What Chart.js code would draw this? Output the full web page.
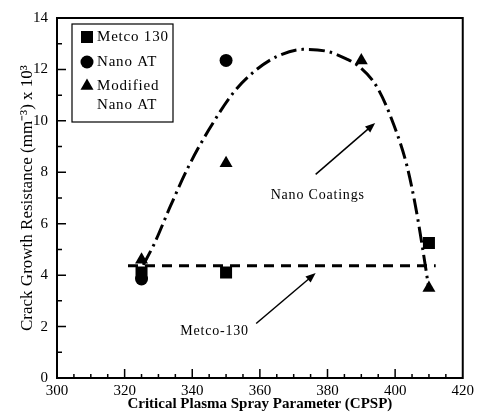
<!DOCTYPE html>
<html>
<head>
<meta charset="utf-8">
<script src="https://cdn.jsdelivr.net/npm/chart.js@4.4.1/dist/chart.umd.min.js"></script>
<style>
  html, body { margin: 0; padding: 0; background: #fff; }
  #wrap { width: 478px; height: 413px; position: relative; }
</style>
</head>
<body>
<div id="wrap"><canvas id="cgr-chart"></canvas></div>
<script>
// measured points
const metcoX = [325, 350, 410];
const metcoY = [4.1, 4.1, 5.25];
const nanoX = [325, 350];
const nanoY = [3.85, 12.35];
const modX = [325, 350, 390, 410];
const modY = [4.6, 8.35, 12.35, 3.5];

// fitted trend lines
const nanoFitX = [325.5, 328.7, 333.6, 339, 344.9, 352.2, 358.6, 365, 372.7, 380, 385.4, 389, 394.7, 399.6, 403.5, 406, 408, 410];
const nanoFitY = [4.4, 5.2, 6.7, 8.25, 9.65, 11.1, 11.95, 12.5, 12.78, 12.7, 12.42, 12.15, 11.3, 9.85, 8.25, 6.7, 5.15, 3.45];
const metcoFitX = [321, 412];
const metcoFitY = [4.37, 4.37];

const legendLabels = ["Metco 130", "Nano AT", "Modified", "Nano AT"];
const FONT = "'Liberation Serif', 'Times New Roman', serif";

function pts(xs, ys) {
  return xs.map((x, i) => ({ x: x, y: ys[i] }));
}

function arrow(ctx, x1, y1, x2, y2) {
  const a = Math.atan2(y2 - y1, x2 - x1);
  const L = 10, W = 4;
  ctx.beginPath();
  ctx.moveTo(x1, y1);
  ctx.lineTo(x2 - Math.cos(a) * L * 0.8, y2 - Math.sin(a) * L * 0.8);
  ctx.stroke();
  ctx.beginPath();
  ctx.moveTo(x2, y2);
  ctx.lineTo(x2 - Math.cos(a) * L - Math.sin(a) * W, y2 - Math.sin(a) * L + Math.cos(a) * W);
  ctx.lineTo(x2 - Math.cos(a) * L + Math.sin(a) * W, y2 - Math.sin(a) * L - Math.cos(a) * W);
  ctx.closePath();
  ctx.fill();
}

function marker(ctx, style, x, y) {
  ctx.beginPath();
  if (style === "rect") {
    ctx.rect(x - 6, y - 6, 12, 12);
  } else if (style === "circle") {
    ctx.arc(x, y, 6.5, 0, Math.PI * 2);
  } else {
    ctx.moveTo(x, y - 7.5);
    ctx.lineTo(x + 6.5, y + 3.75);
    ctx.lineTo(x - 6.5, y + 3.75);
    ctx.closePath();
  }
  ctx.fill();
}

const decorations = {
  id: "decorations",
  afterDraw(chart, args, opts) {
    const ctx = chart.ctx;
    const a = chart.chartArea;
    const x = chart.scales.x, y = chart.scales.y;
    ctx.save();
    ctx.strokeStyle = "#000";
    ctx.fillStyle = "#000";

    // frame
    ctx.lineWidth = 2;
    ctx.strokeRect(a.left, a.top, a.right - a.left, a.bottom - a.top);

    // inner ticks
    ctx.lineWidth = 1.5;
    ctx.beginPath();
    for (let v = x.min + 5; v < x.max; v += 5) {
      const px = x.getPixelForValue(v);
      const len = v % 20 === 0 ? 9 : 4;
      ctx.moveTo(px, a.bottom);
      ctx.lineTo(px, a.bottom - len);
    }
    for (let v = y.min + 1; v < y.max; v += 1) {
      const py = y.getPixelForValue(v);
      const len = v % 2 === 0 ? 9 : 5;
      ctx.moveTo(a.left, py);
      ctx.lineTo(a.left + len, py);
    }
    ctx.stroke();

    // legend box
    const bx = a.left + 15, by = a.top + 6;
    ctx.lineWidth = 1.2;
    ctx.strokeRect(bx, by, 101, 98);
    ctx.font = "15px " + FONT;
    ctx.letterSpacing = "0.8px";
    ctx.textBaseline = "middle";
    ctx.textAlign = "left";
    const rows = [13, 38, 62, 81];
    const styles = ["rect", "circle", "triangle", null];
    legendLabels.forEach((t, i) => {
      if (styles[i]) marker(ctx, styles[i], bx + 15, by + rows[i]);
      ctx.fillText(t, bx + 25, by + rows[i]);
    });

    // annotations
    ctx.lineWidth = 1.5;
    opts.notes.forEach(n => {
      arrow(ctx, x.getPixelForValue(n.from[0]), y.getPixelForValue(n.from[1]),
        x.getPixelForValue(n.to[0]), y.getPixelForValue(n.to[1]));
      ctx.textAlign = "center";
      ctx.font = "14px " + FONT;
      ctx.fillText(n.text, x.getPixelForValue(n.at[0]), y.getPixelForValue(n.at[1]));
    });
    ctx.restore();
  }
};

new Chart(document.getElementById("cgr-chart"), {
  type: "scatter",
  data: {
    datasets: [
      { label: "Metco 130", data: pts(metcoX, metcoY), pointStyle: "rect", pointRadius: 8.5,
        backgroundColor: "#000", borderColor: "#000", borderWidth: 0 },
      { label: "Nano AT", data: pts(nanoX, nanoY), pointStyle: "circle", pointRadius: 6.5,
        backgroundColor: "#000", borderColor: "#000", borderWidth: 0 },
      { label: "Modified Nano AT", data: pts(modX, modY), pointStyle: "triangle", pointRadius: 7.5,
        backgroundColor: "#000", borderColor: "#000", borderWidth: 0 },
      { label: "Nano Coatings", data: pts(nanoFitX, nanoFitY), showLine: true, pointRadius: 0,
        borderColor: "#000", borderWidth: 3, borderDash: [16, 5, 2.5, 5],
        cubicInterpolationMode: "monotone" },
      { label: "Metco-130", data: pts(metcoFitX, metcoFitY), showLine: true, pointRadius: 0,
        borderColor: "#000", borderWidth: 3, borderDash: [10, 7] },
    ],
  },
  options: {
    responsive: true,
    maintainAspectRatio: false,
    animation: false,
    layout: { padding: { top: 13, right: 11, left: 0, bottom: 0 } },
    plugins: {
      legend: { display: false },
      tooltip: { enabled: false },
      decorations: {
        notes: [
          { text: "Nano Coatings", at: [377.1, 7.1], from: [376.5, 7.92], to: [394.1, 9.92] },
          { text: "Metco-130", at: [346.6, 1.8], from: [358.9, 2.12], to: [376.5, 4.08] },
        ],
      },
    },
    scales: {
      x: {
        type: "linear", min: 300, max: 420,
        afterFit: s => { s.height = 35; },
        grid: { drawOnChartArea: false, drawTicks: false },
        border: { color: "#000", width: 2 },
        ticks: { stepSize: 20, padding: 4, color: "#000", font: { family: FONT, size: 15 } },
        title: { display: true, text: "Critical Plasma Spray Parameter (CPSP)", color: "#000",
          padding: { top: 0, bottom: 0 }, font: { family: FONT, size: 15, weight: "bold" } },
      },
      y: {
        type: "linear", min: 0, max: 14,
        afterFit: s => { s.width = 57; },
        grid: { drawOnChartArea: false, drawTicks: false },
        border: { color: "#000", width: 2 },
        ticks: { stepSize: 2, padding: 9, color: "#000", font: { family: FONT, size: 15 } },
        title: { display: true, text: "Crack Growth Resistance (mm\u207B\u00B3) x 10\u00B3", color: "#000",
          padding: { top: 17, bottom: 0 }, font: { family: FONT, size: 17 } },
      },
    },
  },
  plugins: [decorations],
});
</script>
</body>
</html>
